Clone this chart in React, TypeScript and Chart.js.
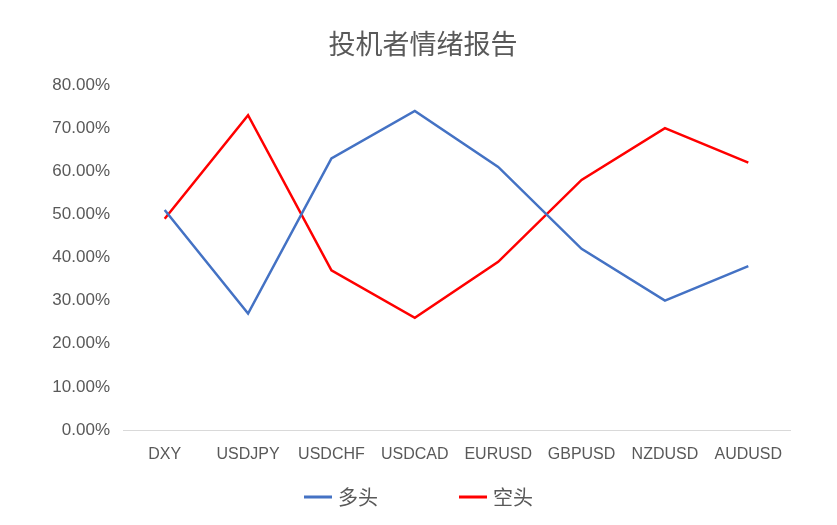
import React, { useEffect, useRef } from "react";
import { Chart, registerables } from "chart.js";

Chart.register(...registerables);

const categories = ["DXY", "USDJPY", "USDCHF", "USDCAD", "EURUSD", "GBPUSD", "NZDUSD", "AUDUSD"];
const longValues = [51, 27, 63, 74, 61, 42, 30, 38];
const shortValues = [49, 73, 37, 26, 39, 58, 70, 62];
const seriesNames = ["多头", "空头"];
const seriesColors = ["#4472C4", "#FF0000"];
const titleText = "投机者情绪报告";

const titleLegendPlugin = {
  id: "titleLegend",
  afterDraw(chart: any) {
    const ctx = chart.ctx;
    ctx.save();
    // title
    ctx.font = '27px "Noto Sans CJK SC"';
    ctx.fillStyle = "#595959";
    ctx.textAlign = "center";
    ctx.textBaseline = "middle";
    ctx.fillText(titleText, 423, 44);
    // legend
    ctx.font = '20px "Noto Sans CJK SC"';
    const lineW = 28;
    const gapText = 6;
    const gapItem = 81;
    const items = chart.data.datasets.map((ds: any) => ({
      label: ds.label,
      color: ds.borderColor,
      w: ctx.measureText(ds.label).width,
    }));
    let total = 0;
    items.forEach((it: any, i: number) => {
      total += lineW + gapText + it.w + (i > 0 ? gapItem : 0);
    });
    let x = chart.width / 2 - total / 2;
    const y = 497;
    items.forEach((it: any) => {
      ctx.fillStyle = it.color;
      ctx.fillRect(x, y - 1.5, lineW, 3);
      x += lineW + gapText;
      ctx.fillStyle = "#595959";
      ctx.textBaseline = "middle";
      ctx.textAlign = "left";
      ctx.fillText(it.label, x, y);
      x += it.w + gapItem;
    });
    ctx.restore();
  },
};

export default function App() {
  const ref = useRef<HTMLCanvasElement | null>(null);
  useEffect(() => {
    document.body.style.margin = "0";
    if (!ref.current) return;
    const chart = new Chart(ref.current, {
      type: "line",
      data: {
        labels: categories,
        datasets: [
          {
            label: seriesNames[0],
            data: longValues,
            borderColor: seriesColors[0],
            backgroundColor: seriesColors[0],
            borderWidth: 2.5,
            pointRadius: 0,
            tension: 0,
          },
          {
            label: seriesNames[1],
            data: shortValues,
            borderColor: seriesColors[1],
            backgroundColor: seriesColors[1],
            borderWidth: 2.5,
            pointRadius: 0,
            tension: 0,
          },
        ],
      },
      options: {
        responsive: false,
        animation: false,
        layout: { padding: { left: 20, right: 47, top: 85, bottom: 60 } },
        plugins: {
          legend: { display: false },
          tooltip: { enabled: false },
          title: { display: false },
        },
        scales: {
          x: {
            offset: true,
            grid: { display: false, drawTicks: false },
            border: { display: true, color: "#D9D9D9", width: 1 },
            ticks: {
              color: "#595959",
              font: { family: '"Liberation Sans"', size: 16 },
              padding: 15,
              maxRotation: 0,
              autoSkip: false,
            },
            afterFit: (scale: any) => {
              scale.height = 35;
            },
          },
          y: {
            min: 0,
            max: 80,
            grid: { display: false, drawTicks: false },
            border: { display: false },
            ticks: {
              stepSize: 10,
              color: "#595959",
              font: { family: '"Liberation Sans"', size: 17 },
              padding: 13,
              callback: (v: any) => Number(v).toFixed(2) + "%",
            },
            afterFit: (scale: any) => {
              scale.width = 103;
            },
          },
        },
      },
      plugins: [titleLegendPlugin],
    });
    return () => chart.destroy();
  }, []);
  return (
    <div style={{ width: 837, height: 525 }}>
      <canvas ref={ref} width={837} height={525} />
    </div>
  );
}
